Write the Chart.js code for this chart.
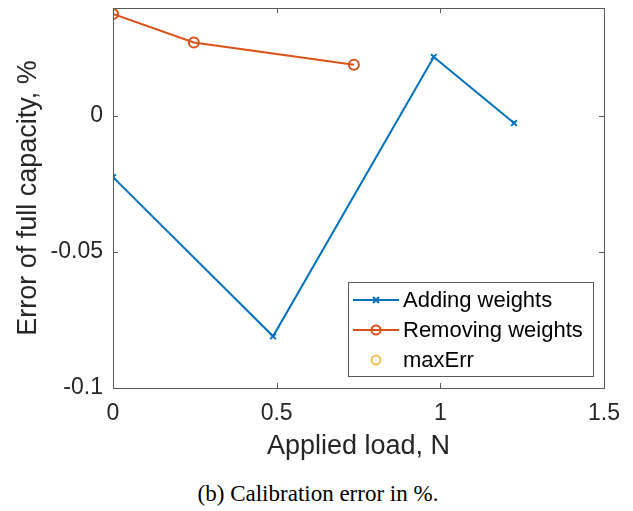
<!DOCTYPE html>
<html>
<head>
<meta charset="utf-8">
<script src="https://cdn.jsdelivr.net/npm/chart.js@4/dist/chart.umd.min.js"></script>
<style>
  body { margin: 0; background: #fff; }
  #wrap { position: relative; width: 633px; height: 511px; }
  #caption {
    position: absolute; left: 0; width: 636px; top: 481px; text-align: center; line-height: 26px;
    font-family: "Liberation Serif", "DejaVu Serif", serif; font-size: 23px; color: #000;
  }
</style>
</head>
<body>
<div id="wrap">
  <canvas id="calChart" width="633" height="470"></canvas>
  <div id="caption">(b) Calibration error in %.</div>
</div>
<script>
// values
const addLoad = [0, 0.489, 0.98, 1.225];
const addErr = [-0.0225, -0.081, 0.0217, -0.0026];
const removeLoad = [0, 0.247, 0.736];
const removeErr = [0.0375, 0.027, 0.0188];
const maxErrLoad = [0];
const maxErrVal = [0.0375];
const xTicks = [0, 0.5, 1, 1.5];
const yTicks = [-0.1, -0.05, 0];

const toPoints = (xs, ys) => xs.map((x, i) => ({ x: x, y: ys[i] }));
const axisColor = "#5a5a5a";
const textColor = "#262626";
const sans = "'Liberation Sans', Arial, sans-serif";

// matlab style box with inward ticks
const boxPlugin = {
  id: "box",
  afterDraw(chart) {
    const { ctx, chartArea: a, scales } = chart;
    ctx.save();
    ctx.strokeStyle = axisColor;
    ctx.lineWidth = 1;
    ctx.strokeRect(a.left + 0.5, a.top + 0.5, a.right - a.left, a.bottom - a.top);
    ctx.beginPath();
    scales.x.ticks.forEach(t => {
      const px = Math.round(scales.x.getPixelForValue(t.value)) + 0.5;
      ctx.moveTo(px, a.bottom); ctx.lineTo(px, a.bottom - 5);
      ctx.moveTo(px, a.top); ctx.lineTo(px, a.top + 5);
    });
    scales.y.ticks.forEach(t => {
      const py = Math.round(scales.y.getPixelForValue(t.value)) + 0.5;
      ctx.moveTo(a.left, py); ctx.lineTo(a.left + 5, py);
      ctx.moveTo(a.right, py); ctx.lineTo(a.right - 5, py);
    });
    ctx.stroke();
    ctx.restore();
  }
};

// legend drawn inside the axes, lower right
const legendPlugin = {
  id: "innerLegend",
  afterDraw(chart) {
    const ctx = chart.ctx;
    const a = chart.chartArea;
    const w = 245, h = 94;
    const x0 = a.right - 11 - w, y0 = a.bottom - 12 - h;
    ctx.save();
    ctx.fillStyle = "#fff";
    ctx.fillRect(x0, y0, w, h);
    ctx.strokeStyle = axisColor;
    ctx.lineWidth = 1;
    ctx.strokeRect(x0 + 0.5, y0 + 0.5, w, h);
    ctx.font = "22px " + sans;
    ctx.textBaseline = "middle";
    chart.data.datasets.forEach((ds, i) => {
      const cy = y0 + 18 + i * 30;
      if (ds.showLine !== false) {
        ctx.strokeStyle = ds.borderColor;
        ctx.lineWidth = 2;
        ctx.beginPath();
        ctx.moveTo(x0 + 5, cy); ctx.lineTo(x0 + 51, cy);
        ctx.stroke();
      }
      const mx = x0 + 28;
      ctx.strokeStyle = ds.pointBorderColor;
      ctx.lineWidth = ds.pointBorderWidth;
      ctx.beginPath();
      if (ds.pointStyle === "crossRot") {
        ctx.moveTo(mx - 3, cy - 3); ctx.lineTo(mx + 3, cy + 3);
        ctx.moveTo(mx + 3, cy - 3); ctx.lineTo(mx - 3, cy + 3);
      } else {
        ctx.arc(mx, cy, 4.5, 0, Math.PI * 2);
      }
      ctx.stroke();
      ctx.fillStyle = "#000";
      ctx.fillText(ds.label, x0 + 55, cy + 1);
    });
    ctx.restore();
  }
};

new Chart(document.getElementById("calChart").getContext("2d"), {
  type: "scatter",
  data: {
    datasets: [
      {
        label: "Adding weights",
        data: toPoints(addLoad, addErr),
        showLine: true,
        borderColor: "#0072BD",
        borderWidth: 2,
        pointStyle: "crossRot",
        pointRadius: 4,
        pointBorderColor: "#0072BD",
        pointBorderWidth: 2,
        pointBackgroundColor: "#0072BD"
      },
      {
        label: "Removing weights",
        data: toPoints(removeLoad, removeErr),
        showLine: true,
        borderColor: "#D95319",
        borderWidth: 2,
        pointStyle: "circle",
        pointRadius: 5,
        pointBorderColor: "#D95319",
        pointBorderWidth: 2,
        pointBackgroundColor: "rgba(0,0,0,0)"
      },
      {
        label: "maxErr",
        data: toPoints(maxErrLoad, maxErrVal),
        showLine: false,
        borderColor: "#EDB120",
        pointStyle: "circle",
        pointRadius: 5,
        pointBorderColor: "#EDB120",
        pointBorderWidth: 1.5,
        pointBackgroundColor: "rgba(0,0,0,0)"
      }
    ]
  },
  options: {
    responsive: false,
    animation: false,
    layout: { padding: { left: 0, right: 29, top: 8, bottom: 0 } },
    plugins: { legend: { display: false }, tooltip: { enabled: false } },
    scales: {
      x: {
        type: "linear",
        min: 0,
        max: 1.5,
        afterBuildTicks: s => { s.ticks = xTicks.map(v => ({ value: v })); },
        afterFit: s => { s.height = 82; s.paddingLeft = 0; s.paddingRight = 0; },
        grid: { display: false, drawTicks: false },
        border: { display: false },
        ticks: {
          color: textColor,
          padding: 12,
          maxRotation: 0,
          font: { family: sans, size: 23 },
          callback: v => String(v)
        },
        title: {
          display: true,
          text: "Applied load, N",
          color: textColor,
          padding: { top: 0, bottom: 7 },
          font: { family: sans, size: 27 }
        }
      },
      y: {
        type: "linear",
        min: -0.1,
        max: 0.0397,
        afterBuildTicks: s => { s.ticks = yTicks.map(v => ({ value: v })); },
        afterFit: s => { s.width = 113; s.paddingTop = 0; s.paddingBottom = 0; },
        grid: { display: false, drawTicks: false },
        border: { display: false },
        ticks: {
          color: textColor,
          padding: 10,
          font: { family: sans, size: 23 },
          callback: v => String(v)
        },
        title: {
          display: true,
          text: "Error of full capacity, %",
          color: textColor,
          padding: { top: 12, bottom: 0 },
          font: { family: sans, size: 27 }
        }
      }
    }
  },
  plugins: [boxPlugin, legendPlugin]
});
</script>
</body>
</html>
